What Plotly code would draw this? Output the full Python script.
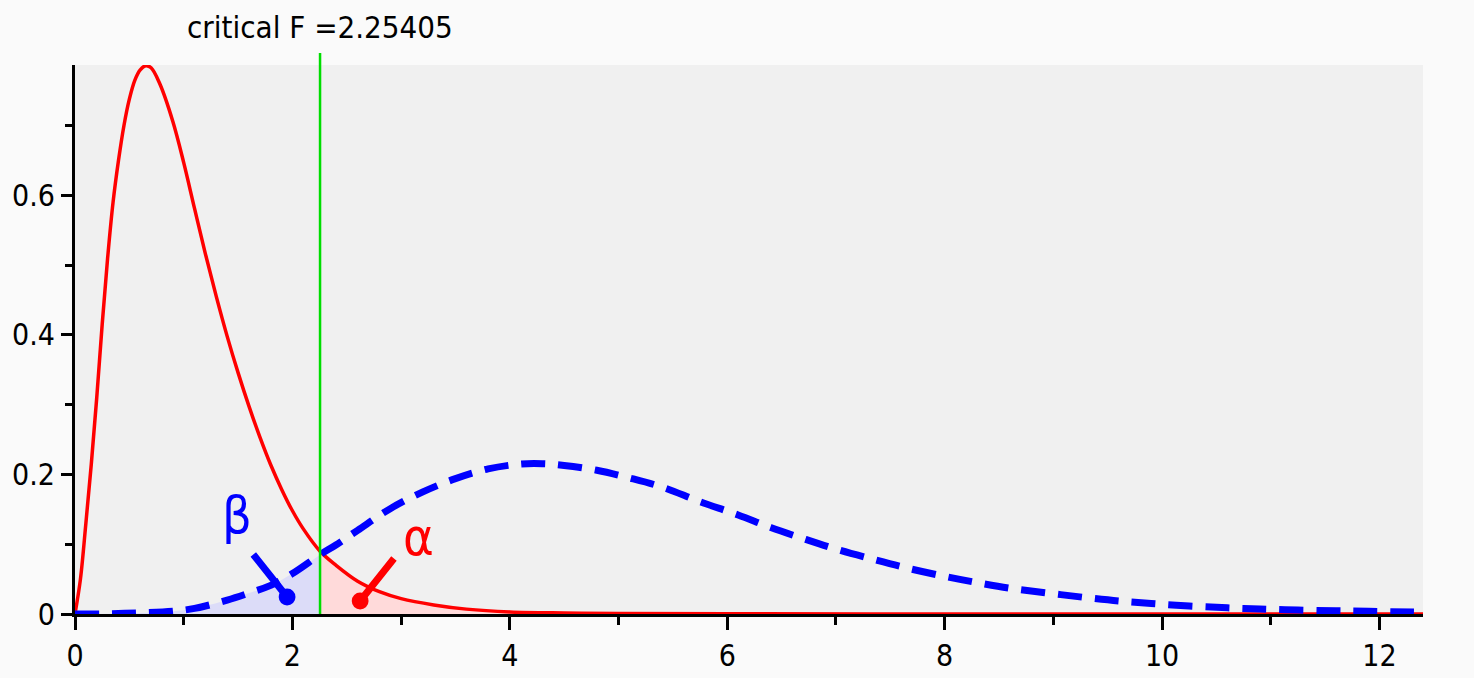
import plotly.graph_objects as go

crit_f = 2.25405

# Central F density (red)
red_x = [0, 0.05, 0.1, 0.15, 0.2, 0.25, 0.3, 0.35, 0.4, 0.45, 0.5, 0.55, 0.6, 0.65,
         0.7, 0.78, 0.9, 1.0, 1.1, 1.2, 1.3, 1.4, 1.5, 1.6, 1.7, 1.8, 1.9, 2.0, 2.1,
         2.25405, 2.4, 2.6, 2.8, 3.0, 3.3, 3.6, 4.0, 4.5, 5.0, 6.0, 8.0, 10.0, 12.4]
red_y = [0, 0.05, 0.13, 0.215, 0.31, 0.415, 0.51, 0.59, 0.65, 0.70, 0.738, 0.765,
         0.780, 0.786, 0.783, 0.76, 0.706, 0.647, 0.581, 0.516, 0.455, 0.398, 0.346,
         0.298, 0.254, 0.214, 0.179, 0.148, 0.122, 0.09, 0.07, 0.047, 0.032, 0.022,
         0.013, 0.007, 0.003, 0.0015, 0.0008, 0.0003, 0.0001, 0.00003, 0]

# Non-central F density (blue)
blue_x = [0, 0.3, 0.6, 0.9, 1.1, 1.4, 1.6, 1.8, 2.0, 2.25405, 2.4, 2.6, 2.9, 3.2,
          3.5, 3.8, 4.1, 4.3, 4.5, 4.8, 5.1, 5.4, 5.75, 6.1, 6.4, 6.7, 7.0, 7.35,
          7.65, 8.0, 8.3, 8.6, 8.95, 9.3, 9.6, 9.9, 10.25, 10.6, 10.9, 11.25, 11.6,
          11.9, 12.4]
blue_y = [0, 0.0003, 0.0015, 0.004, 0.008, 0.02, 0.03, 0.041, 0.058, 0.085, 0.099,
          0.12, 0.151, 0.175, 0.194, 0.208, 0.215, 0.2155, 0.213, 0.206, 0.195,
          0.182, 0.161, 0.142, 0.124, 0.108, 0.093, 0.078, 0.066, 0.054, 0.045,
          0.037, 0.030, 0.0235, 0.0186, 0.015, 0.0115, 0.0088, 0.0072, 0.0057,
          0.0046, 0.0038, 0.0025]

x_tickvals = [0, 2, 4, 6, 8, 10, 12]
x_ticktext = ["0", "2", "4", "6", "8", "10", "12"]
y_tickvals = [0, 0.2, 0.4, 0.6]
y_ticktext = ["0", "0.2", "0.4", "0.6"]

FONT = "DejaVu Sans Condensed, DejaVu Sans, sans-serif"

beta_fx = [x for x in blue_x if x <= crit_f]
beta_fy = [y for x, y in zip(blue_x, blue_y) if x <= crit_f]
alpha_fx = [x for x in red_x if x >= crit_f]
alpha_fy = [y for x, y in zip(red_x, red_y) if x >= crit_f]

fig = go.Figure()
fig.add_trace(go.Scatter(x=beta_fx, y=beta_fy, fill="tozeroy", mode="none",
                         fillcolor="#dcdcf8", line_shape="spline", showlegend=False))
fig.add_trace(go.Scatter(x=alpha_fx, y=alpha_fy, fill="tozeroy", mode="none",
                         fillcolor="#ffdada", line_shape="spline", showlegend=False))
fig.add_trace(go.Scatter(x=red_x, y=red_y, mode="lines",
                         line=dict(color="#ff0000", width=3.5, shape="spline"),
                         showlegend=False))
fig.add_trace(go.Scatter(x=blue_x, y=blue_y, mode="lines",
                         line=dict(color="#0000ff", width=7, shape="spline",
                                   dash="24px,13px"),
                         showlegend=False))

fig.add_shape(type="line", xref="x", yref="paper", x0=crit_f, x1=crit_f, y0=0, y1=1.022,
              line=dict(color="#00dd00", width=2.5), layer="above")

fig.add_annotation(x=crit_f, y=1.0, xref="x", yref="paper", yshift=38,
                   text="critical F =" + str(crit_f), showarrow=False,
                   yanchor="middle",
                   font=dict(family=FONT, size=31, color="black"))

# beta / alpha labels and pointer arrows
fig.add_annotation(x=1.49, y=0.142, xref="x", yref="y", text="β", showarrow=False,
                   font=dict(family=FONT, size=52, color="#0000ff"))
fig.add_annotation(x=3.16, y=0.11, xref="x", yref="y", text="α", showarrow=False,
                   font=dict(family=FONT, size=52, color="#ff0000"))
fig.add_annotation(x=1.951, y=0.0244, ax=1.629, ay=0.0874, xref="x", yref="y",
                   axref="x", ayref="y", text="", showarrow=True, arrowhead=6,
                   arrowsize=0.6, arrowwidth=7, arrowcolor="#0000ff", standoff=0)
fig.add_annotation(x=2.623, y=0.0186, ax=2.945, ay=0.0817, xref="x", yref="y",
                   axref="x", ayref="y", text="", showarrow=True, arrowhead=6,
                   arrowsize=0.6, arrowwidth=7, arrowcolor="#ff0000", standoff=0)

fig.update_layout(
    width=1474, height=678,
    margin=dict(l=75, r=51, t=65, b=64),
    paper_bgcolor="#fafafa", plot_bgcolor="#f0f0f0",
    font=dict(family=FONT, size=30, color="black"),
)
fig.update_xaxes(range=[0, 12.4], showline=True, linewidth=3, linecolor="black",
                 showgrid=False, zeroline=False, ticks="outside", ticklen=13,
                 tickwidth=3, tickcolor="black", tickvals=x_tickvals,
                 ticktext=x_ticktext, automargin=False,
                 minor=dict(dtick=1, ticklen=8, tickwidth=3, tickcolor="black",
                            ticks="outside", showgrid=False))
fig.update_yaxes(range=[0, 0.787], showline=True, linewidth=3, linecolor="black",
                 showgrid=False, zeroline=False, ticks="outside", ticklen=11,
                 tickwidth=3, tickcolor="black", tickvals=y_tickvals,
                 ticktext=y_ticktext, automargin=False,
                 minor=dict(dtick=0.1, ticklen=7, tickwidth=3, tickcolor="black",
                            ticks="outside", showgrid=False))

fig.write_html("out.html", config={"displayModeBar": False},
               post_script="document.body.style.margin='0';"
                           "document.body.style.background='#fafafa';")
